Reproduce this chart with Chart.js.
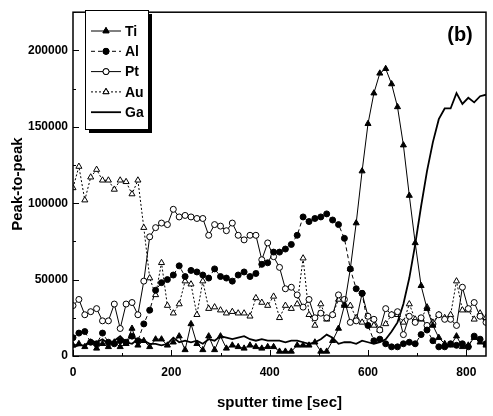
<!DOCTYPE html>
<html>
<head>
<meta charset="utf-8">
<script src="https://cdn.jsdelivr.net/npm/chart.js@4/dist/chart.umd.min.js"></script>
<style>
  html, body { margin: 0; padding: 0; background: #fff; }
  #wrap { width: 493px; height: 416px; }
</style>
</head>
<body>
<div id="wrap"><canvas id="c" width="493" height="416"></canvas></div>
<script>
// sputter time in seconds
const times = [0,12,24,36,48,60,72,84,96,108,120,132,144,156,168,180,192,204,216,228,
  240,252,264,276,288,300,312,324,336,348,360,372,384,396,408,420,432,444,456,468,
  480,492,504,516,528,540,552,564,576,588,600,612,624,636,648,660,672,684,696,708,
  720,732,744,756,768,780,792,804,816,828,840];

const ti = [7000,8000,6000,9000,5000,8000,6000,9000,6000,8000,
  18000,7000,10000,6000,11000,11000,7000,9000,13000,4000,
  21000,8000,4000,13000,4000,13000,5000,7000,6000,5000,
  7000,6000,5000,6000,6000,3000,3000,3000,7000,7000,
  7000,9000,3000,3000,10000,18000,33000,57000,87000,121000,
  152000,172000,185000,188000,178000,163000,138000,105000,74000,46000,
  31000,20000,12000,8000,7000,13000,6000,7000,12000,9000,
  7000];

const al = [12000,15000,16000,9000,8000,15000,9000,8000,10000,9000,
  13000,10000,21000,30000,43000,48000,50000,53000,59000,52000,
  56000,55000,53000,51000,57000,52000,51000,49000,53000,55000,
  52000,54000,60000,61000,68000,68000,70000,73000,79000,91000,
  88000,90000,91000,93000,89000,86000,77000,57000,44000,41000,
  20000,10000,11000,8000,6000,6000,8000,9000,8000,14000,
  17000,10000,6000,6000,8000,7000,8000,6000,13000,11000,
  8000];

const pt = [33000,37000,27000,29000,31000,23000,23000,34000,18000,34000,
  35000,27000,49000,78000,84000,87000,86000,96000,91000,92000,
  91000,90000,90000,79000,86000,85000,82000,87000,79000,76000,
  79000,79000,63000,74000,65000,58000,44000,45000,40000,32000,
  37000,25000,28000,25000,27000,40000,37000,22000,23000,41000,
  26000,24000,17000,31000,27000,29000,14000,26000,22000,25000,
  20000,21000,27000,24000,24000,20000,45000,31000,35000,26000,
  22000];

const au = [110000,124000,102000,117000,122000,115000,115000,109000,115000,114000,
  106000,115000,84000,51000,40000,61000,33000,28000,34000,49000,
  47000,27000,49000,31000,32000,30000,28000,29000,28000,28000,
  26000,38000,35000,33000,39000,25000,33000,31000,34000,64000,
  27000,20000,34000,24000,27000,37000,34000,33000,25000,22000,
  26000,20000,17000,21000,27000,27000,22000,34000,24000,24000,
  32000,22000,27000,25000,27000,49000,30000,30000,24000,28000,
  25000];

const ga = [6000,7000,7000,10000,9000,11000,8000,10000,13000,9000,
  8000,11000,10000,8000,8000,7000,8000,12000,9000,10000,
  9000,10000,8000,11000,10000,13000,12000,11000,12000,13000,
  11000,10000,11000,10000,10000,10000,9000,10000,10000,9000,
  8000,9000,11000,14000,12000,8000,9000,9000,8000,10000,
  9000,8000,9000,11000,16000,22000,34000,51000,73000,98000,
  121000,140000,155000,162000,162000,172000,165000,169000,166000,170000,
  171000];

const seriesNames = ["Ti", "Al", "Pt", "Au", "Ga"];
const yTicks = [0, 50000, 100000, 150000, 200000];
const xTicks = [0, 200, 400, 600, 800];
const panelLabel = "(b)";

const FONT = "'Liberation Sans', Arial, sans-serif";

function pts(vals) {
  return times.map((t, i) => ({ x: t, y: vals[i] }));
}

// inward ticks, frame, legend box with shadow, panel letter
const decor = {
  id: "decor",
  afterDraw(chart) {
    const ctx = chart.ctx;
    const a = chart.chartArea;
    const xs = chart.scales.x, ys = chart.scales.y;
    ctx.save();
    ctx.strokeStyle = "#000";
    ctx.lineWidth = 1;
    for (let v = 0; v <= 225000; v += 25000) {
      const y = Math.round(ys.getPixelForValue(v)) + 0.5;
      const len = v % 50000 === 0 ? 6 : 3;
      ctx.beginPath(); ctx.moveTo(a.left, y); ctx.lineTo(a.left + len, y); ctx.stroke();
    }
    for (let v = 0; v <= 840; v += 100) {
      const x = Math.round(xs.getPixelForValue(v)) + 0.5;
      const len = v % 200 === 0 ? 6 : 3;
      ctx.beginPath(); ctx.moveTo(x, a.bottom); ctx.lineTo(x, a.bottom - len); ctx.stroke();
    }
    ctx.lineWidth = 1.5;
    ctx.strokeRect(a.left, a.top, a.right - a.left, a.bottom - a.top);

    // legend
    const bx = 85, by = 10, bw = 63, bh = 119;
    ctx.fillStyle = "#000";
    ctx.fillRect(bx + 4, by + 4, bw, bh);
    ctx.fillStyle = "#fff";
    ctx.fillRect(bx, by, bw, bh);
    ctx.lineWidth = 1;
    ctx.strokeRect(bx + 0.5, by + 0.5, bw, bh);
    chart.data.datasets.forEach((ds, i) => {
      const y = 31 + i * 20.3;
      ctx.save();
      ctx.strokeStyle = "#000";
      ctx.lineWidth = ds.borderWidth;
      ctx.setLineDash(ds.borderDash || []);
      ctx.beginPath(); ctx.moveTo(91, y); ctx.lineTo(121, y); ctx.stroke();
      ctx.restore();
      if (ds.pointRadius > 0) {
        Chart.helpers.drawPoint(ctx, {
          pointStyle: ds.pointStyle, radius: ds.pointRadius, rotation: 0,
          borderWidth: 1
        }, 106, y);
        ctx.fillStyle = ds.pointBackgroundColor;
        ctx.strokeStyle = "#000";
        ctx.fill(); ctx.stroke();
      }
      ctx.fillStyle = "#000";
      ctx.font = "bold 14px " + FONT;
      ctx.textAlign = "left";
      ctx.textBaseline = "middle";
      ctx.fillText(ds.label, 125, y + 1);
    });

    ctx.font = "bold 20px " + FONT;
    ctx.textAlign = "center";
    ctx.textBaseline = "middle";
    ctx.fillStyle = "#000";
    ctx.fillText(panelLabel, 460, 35);
    ctx.restore();
  }
};

const styles = [
  { data: ti, pointStyle: "triangle", pointRadius: 3.5, fill: "#000", dash: [], width: 1 },
  { data: al, pointStyle: "circle", pointRadius: 3, fill: "#000", dash: [4, 3], width: 1 },
  { data: pt, pointStyle: "circle", pointRadius: 3, fill: "#fff", dash: [], width: 1 },
  { data: au, pointStyle: "triangle", pointRadius: 3.5, fill: "#fff", dash: [2, 2], width: 1 },
  { data: ga, pointStyle: "circle", pointRadius: 0, fill: "#000", dash: [], width: 1.8 }
];

const tickLabel = (v, i, ticks) => String(ticks[i].value);

new Chart(document.getElementById("c"), {
  type: "line",
  data: {
    datasets: styles.map((s, i) => ({
      label: seriesNames[i],
      data: pts(s.data),
      borderColor: "#000",
      borderWidth: s.width,
      borderDash: s.dash,
      pointStyle: s.pointStyle,
      pointRadius: s.pointRadius,
      pointBorderWidth: 1,
      pointBorderColor: "#000",
      pointBackgroundColor: s.fill,
      tension: 0,
      fill: false
    }))
  },
  options: {
    responsive: false,
    animation: false,
    layout: { padding: { left: 0, right: 7, top: 5, bottom: 0 } },
    plugins: { legend: { display: false }, tooltip: { enabled: false } },
    scales: {
      x: {
        type: "linear", min: 0, max: 840,
        grid: { display: false, drawTicks: false },
        border: { display: false },
        afterBuildTicks: s => { s.ticks = xTicks.map(v => ({ value: v })); },
        ticks: {
          autoSkip: false, maxRotation: 0, padding: 9, color: "#000",
          font: { family: FONT, size: 12, weight: "bold" },
          callback: tickLabel
        },
        title: {
          display: true, text: "sputter time [sec]", color: "#000",
          font: { family: FONT, size: 15, weight: "bold" },
          padding: { top: 0, bottom: 4 }
        },
        afterFit: s => { s.height = 60; }
      },
      y: {
        type: "linear", min: 0, max: 225000,
        grid: { display: false, drawTicks: false },
        border: { display: false },
        afterBuildTicks: s => { s.ticks = yTicks.map(v => ({ value: v })); },
        ticks: {
          autoSkip: false, padding: 5, color: "#000",
          font: { family: FONT, size: 12, weight: "bold" },
          callback: tickLabel
        },
        title: {
          display: true, text: "Peak-to-peak", color: "#000",
          font: { family: FONT, size: 15, weight: "bold" },
          padding: { top: 9, bottom: 0 }
        },
        afterFit: s => { s.width = 73; }
      }
    }
  },
  plugins: [decor]
});
</script>
</body>
</html>
